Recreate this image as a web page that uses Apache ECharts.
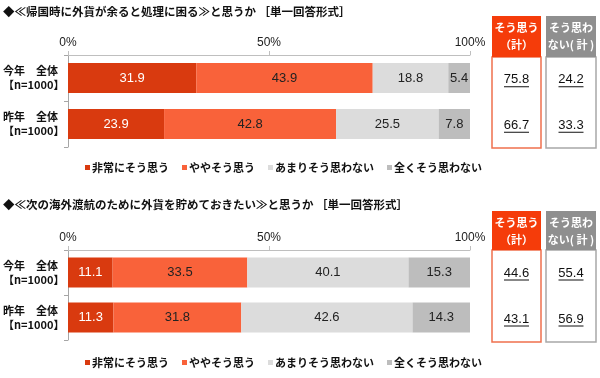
<!DOCTYPE html>
<html><head><meta charset="utf-8">
<script src="https://cdn.jsdelivr.net/npm/echarts@6/dist/echarts.min.js"></script>
<style>html,body{margin:0;padding:0;background:#fff}#c{width:600px;height:378px}</style>
</head><body><div id="c"></div>
<script>
// ---- data ----
const titles = [
  '◆≪帰国時に外貨が余ると処理に困る≫と思うか ［単一回答形式］',
  '◆≪次の海外渡航のために外貨を貯めておきたい≫と思うか ［単一回答形式］'
];
const categories = ['今年　全体\n【n=1000】', '昨年　全体\n【n=1000】'];
const seriesNames = ['非常にそう思う', 'ややそう思う', 'あまりそう思わない', '全くそう思わない'];
const xTicks = [0, 50, 100];
// chart 1
const c1_strong = [31.9, 23.9];
const c1_some = [43.9, 42.8];
const c1_notMuch = [18.8, 25.5];
const c1_notAll = [5.4, 7.8];
const c1_agreeTotal = [75.8, 66.7];
const c1_disagreeTotal = [24.2, 33.3];
// chart 2
const c2_strong = [11.1, 11.3];
const c2_some = [33.5, 31.8];
const c2_notMuch = [40.1, 42.6];
const c2_notAll = [15.3, 14.3];
const c2_agreeTotal = [44.6, 43.1];
const c2_disagreeTotal = [55.4, 56.9];
const boxHeaders = ['そう思う\n（計）', 'そう思わ\nない( 計 )'];

// ---- styles ----
const JP = '"Noto Sans CJK JP", "Noto Sans", sans-serif';
const NUM = '"Liberation Sans", Arial, sans-serif';
const colors = ['#D93A0F', '#F9623A', '#DCDCDC', '#BDBDBD'];
const labelColors = ['#ffffff', '#222222', '#222222', '#222222'];
const headerColors = ['#F53C0A', '#8F8F8F'];
const boxBorders = ['#F0704E', '#A8A8A8'];

const charts = [
  {vals: [c1_strong, c1_some, c1_notMuch, c1_notAll], totals: [c1_agreeTotal, c1_disagreeTotal], top: 55, h: 92, titleY: 6, legendY: 157, boxTop: 57, boxH: 91, headTop: 16},
  {vals: [c2_strong, c2_some, c2_notMuch, c2_notAll], totals: [c2_agreeTotal, c2_disagreeTotal], top: 250, h: 90, titleY: 199, legendY: 352, boxTop: 250, boxH: 92, headTop: 211}
];
const boxLeft = [492, 546];
const boxW = [49, 50];

const grid = [], xAxis = [], yAxis = [], series = [], legend = [], graphic = [];
charts.forEach((c, k) => {
  const mi = grid.length;
  grid.push({left: 68, width: 402, top: c.top, height: c.h});
  xAxis.push({type: 'value', gridIndex: mi, position: 'top', min: xTicks[0], max: xTicks[xTicks.length-1], interval: xTicks[1]-xTicks[0],
    axisLine: {show: true, lineStyle: {color: '#BFBFBF'}}, axisTick: {show: true, length: 4, lineStyle: {color: '#BFBFBF'}},
    splitLine: {show: false}, axisLabel: {formatter: '{value}%', color: '#222', fontFamily: NUM, fontSize: 12, margin: 6}});
  yAxis.push({type: 'category', gridIndex: mi, data: categories, inverse: true,
    axisLine: {show: true, lineStyle: {color: '#A6A6A6'}}, axisTick: {show: true, length: 4, lineStyle: {color: '#A6A6A6'}},
    axisLabel: {align: 'left', margin: 65, color: '#111', fontFamily: JP, fontSize: 11, fontWeight: 'bold', lineHeight: 14}});
  c.vals.forEach((v, s) => {
    series.push({type: 'bar', name: seriesNames[s], stack: 'st' + k, xAxisIndex: mi, yAxisIndex: mi, data: v, barWidth: 30,
      itemStyle: {color: colors[s]},
      label: {show: true, position: 'inside', color: labelColors[s], fontFamily: NUM, fontSize: 13, formatter: p => p.value.toFixed(1)}});
  });
  legend.push({data: seriesNames, left: 80, top: c.legendY, itemWidth: 5, itemHeight: 5, itemGap: 13, icon: 'rect',
    textStyle: {fontFamily: JP, fontSize: 11, fontWeight: 'bold', color: '#111', padding: [0,0,0,-3]}});
  graphic.push({type: 'text', left: 3, top: c.titleY, style: {text: titles[k], font: 'bold 11.5px ' + JP, fill: '#111'}});
  // total boxes
  [0, 1].forEach(b => {
    const gi = grid.length;
    grid.push({left: boxLeft[b], width: boxW[b], top: c.boxTop, height: c.boxH, show: true, borderColor: boxBorders[b], borderWidth: 1.5, backgroundColor: '#fff'});
    xAxis.push({type: 'value', gridIndex: gi, min: 0, max: 1, show: false});
    yAxis.push({type: 'category', gridIndex: gi, data: categories, inverse: true, show: false});
    series.push({type: 'custom', xAxisIndex: gi, yAxisIndex: gi, silent: true,
      data: c.totals[b].map((v, i) => [0.5, i, v]),
      renderItem: (params, api) => {
        const p = api.coord([api.value(0), api.value(1)]);
        const txt = api.value(2).toFixed(1);
        return {type: 'group', children: [
          {type: 'text', style: {text: txt, x: p[0], y: p[1], align: 'center', verticalAlign: 'middle', font: '13px ' + NUM, fill: '#111'}},
          {type: 'line', shape: {x1: p[0]-12.5, y1: p[1]+7, x2: p[0]+12.5, y2: p[1]+7}, style: {stroke: '#111', lineWidth: 1}}
        ]};
      }});
    graphic.push({type: 'rect', x: boxLeft[b], y: c.headTop, shape: {width: boxW[b], height: c.boxTop - c.headTop}, style: {fill: headerColors[b]}});
    graphic.push({type: 'text', x: boxLeft[b] + boxW[b]/2, y: c.headTop + 3,
      style: {text: boxHeaders[b], align: 'center', verticalAlign: 'top', font: 'bold 11px ' + JP, fill: '#fff', lineHeight: 17}});
  });
});

const chart = echarts.init(document.getElementById('c'), null, {renderer: 'canvas'});
chart.setOption({animation: false, backgroundColor: '#fff', grid, xAxis, yAxis, series, legend, graphic});
</script></body></html>
